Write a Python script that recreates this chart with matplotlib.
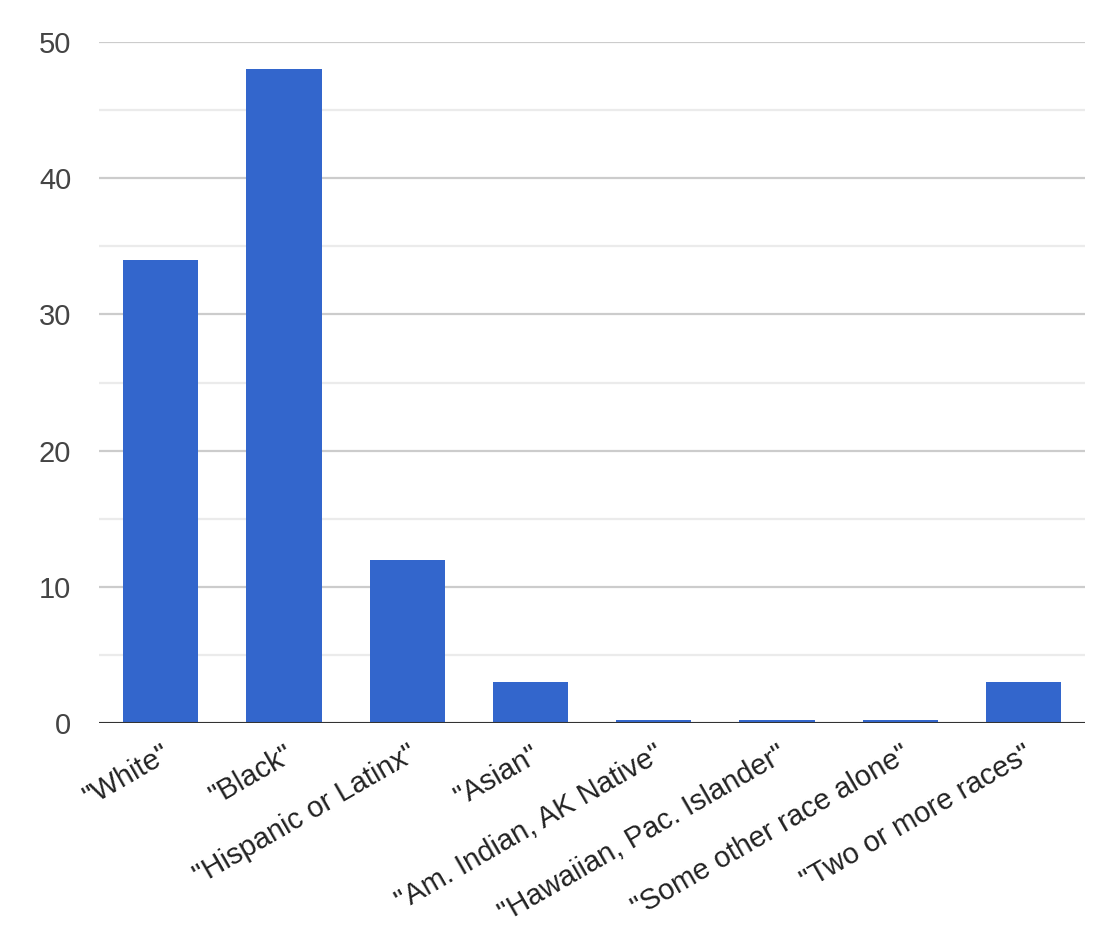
#!/usr/bin/env python3

import matplotlib
matplotlib.use("Agg")
import matplotlib.pyplot as plt
from matplotlib.ticker import MultipleLocator

# data
categories = ['"White"', '"Black"', '"Hispanic or Latinx"', '"Asian"',
              '"Am. Indian, AK Native"', '"Hawaiian, Pac. Islander"',
              '"Some other race alone"', '"Two or more races"']
counts = [34, 48, 12, 3, 0.2, 0.2, 0.2, 3]

plt.rcParams["font.family"] = ["Liberation Sans", "DejaVu Sans"]

fig = plt.figure(figsize=(11.04, 9.35), dpi=100)
ax = fig.add_axes([0.0897, 0.2267, 0.8933, 0.7283])

x = range(len(categories))
ax.bar(x, counts, width=0.61, color="#3366cc", zorder=3)

ax.set_xlim(-0.5, len(categories) - 0.5)
ax.set_ylim(0, 50)
ax.yaxis.set_major_locator(MultipleLocator(10))
ax.yaxis.set_minor_locator(MultipleLocator(5))

# gridlines, google-charts style
ax.grid(True, which="major", axis="y", color="#cccccc", linewidth=1.6, zorder=0)
ax.grid(True, which="minor", axis="y", color="#ebebeb", linewidth=1.6, zorder=0)
ax.axhline(0, color="#333333", linewidth=2.2, zorder=4)

for side in ["top", "right", "left", "bottom"]:
    ax.spines[side].set_visible(False)

ax.tick_params(axis="y", which="both", length=0, pad=20, labelsize=21, labelcolor="#444444")
ax.tick_params(axis="x", length=0, pad=12)
ax.set_xticks(list(x))
ax.set_xticklabels(categories, rotation=30, ha="right", rotation_mode="anchor",
                   fontsize=21, color="#222222")

fig.savefig("out.png", dpi=100, facecolor="white")
